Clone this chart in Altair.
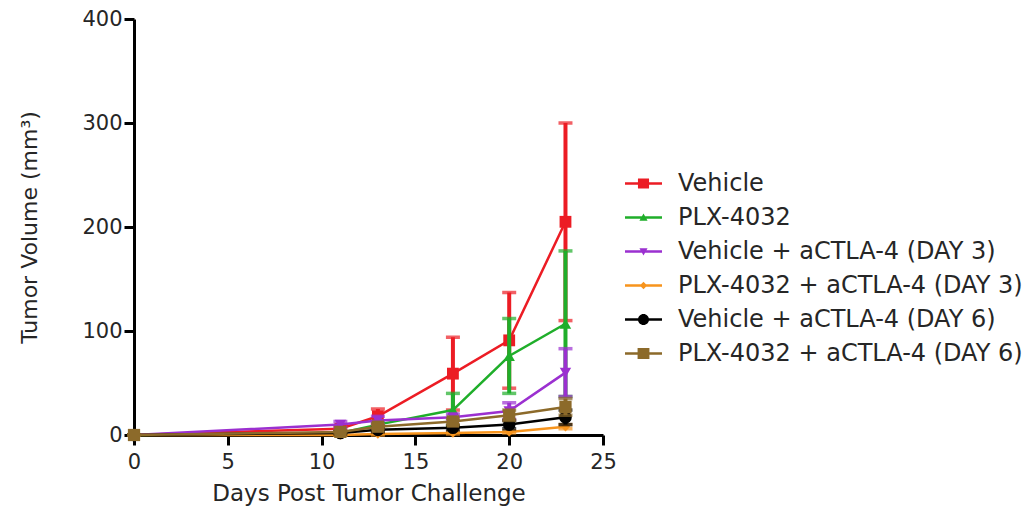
import altair as alt
import pandas as pd

# ---------------- data ----------------
days = [0, 11, 13, 17, 20, 23]

series_names = [
    "Vehicle",
    "PLX-4032",
    "Vehicle + aCTLA-4 (DAY 3)",
    "PLX-4032 + aCTLA-4 (DAY 3)",
    "Vehicle + aCTLA-4 (DAY 6)",
    "PLX-4032 + aCTLA-4 (DAY 6)",
]

vehicle_mean = [0, 6, 18, 59, 91, 205]
vehicle_err = [0, 2, 7, 35, 46, 95]

plx_mean = [0, 2, 10, 24, 76, 107]
plx_err = [0, 1, 3, 16, 36, 70]

veh_ctla_d3_mean = [0, 10, 14, 17, 23, 60]
veh_ctla_d3_err = [0, 3, 4, 3, 8, 23]

plx_ctla_d3_mean = [0, 0, 1, 2, 3, 8]
plx_ctla_d3_err = [0, 0, 1, 1, 1, 2]

veh_ctla_d6_mean = [0, 2, 5, 7, 10, 17]
veh_ctla_d6_err = [0, 1, 2, 2, 4, 7]

plx_ctla_d6_mean = [0, 3, 8, 13, 19, 27]
plx_ctla_d6_err = [0, 1, 2, 3, 5, 8]

means = [vehicle_mean, plx_mean, veh_ctla_d3_mean, plx_ctla_d3_mean, veh_ctla_d6_mean, plx_ctla_d6_mean]
errs = [vehicle_err, plx_err, veh_ctla_d3_err, plx_ctla_d3_err, veh_ctla_d6_err, plx_ctla_d6_err]

x_ticks = [0, 5, 10, 15, 20, 25]
y_ticks = [0, 100, 200, 300, 400]

# ---------------- styles ----------------
colors = ["#ec1c24", "#1fae2a", "#9b30d0", "#f7941d", "#000000", "#8c6a2a"]
shapes = ["square", "triangle-up", "triangle-down", "diamond", "circle", "square"]
sizes = [140, 130, 130, 90, 160, 150]

# legend symbols: a short line with the marker on top (custom SVG paths)
LINE = "M-1,-0.07H1V0.07H-1Z "
legend_paths = [
    LINE + "M-0.3,-0.27H0.3V0.27H-0.3Z",
    LINE + "M0,-0.22L0.22,0.17L-0.22,0.17Z",
    LINE + "M-0.22,-0.17L0.22,-0.17L0,0.22Z",
    LINE + "M0,-0.2L0.2,0L0,0.2L-0.2,0Z",
    LINE + "M0.3,0A0.3,0.3 0 1,1 -0.3,0A0.3,0.3 0 1,1 0.3,0Z",
    LINE + "M-0.32,-0.3H0.32V0.3H-0.32Z",
]

FONT = "DejaVu Sans"
TEXT = "#262626"

rows = []
for name, m_list, e_list in zip(series_names, means, errs):
    for d, m, e in zip(days, m_list, e_list):
        rows.append({"series": name, "day": d, "mean": m, "lo": max(m - e, 0), "hi": m + e})
df = pd.DataFrame(rows)

x_axis = alt.Axis(
    values=x_ticks, grid=False, domainColor="black", domainWidth=3,
    tickColor="black", tickWidth=3, tickSize=10, labelFlush=False,
    labelFont=FONT, labelFontSize=21, labelColor=TEXT,
    labelBaseline="alphabetic", labelPadding=23,
    title="Days Post Tumor Challenge", titleFont=FONT, titleFontSize=23,
    titleFontWeight="normal", titleColor=TEXT, titleY=65, titleBaseline="alphabetic",
)
y_axis = alt.Axis(
    values=y_ticks, grid=False, domainColor="black", domainWidth=3,
    tickColor="black", tickWidth=3, tickSize=10, labelFlush=False,
    labelFont=FONT, labelFontSize=21, labelColor=TEXT, labelPadding=2,
    title="Tumor Volume (mm³)", titleFont=FONT, titleFontSize=22,
    titleFontWeight="normal", titleColor=TEXT, titleX=-105, titleBaseline="middle",
)
x_scale = alt.Scale(domain=[0, 25], nice=False)
y_scale = alt.Scale(domain=[0, 400], nice=False)


def X(field):
    return alt.X(f"{field}:Q", scale=x_scale, axis=x_axis, title="Days Post Tumor Challenge")


def Y(field):
    return alt.Y(f"{field}:Q", scale=y_scale, axis=y_axis, title="Tumor Volume (mm³)")


base = alt.Chart(df)
layers = []
for name, col, shp, sz in zip(series_names, colors, shapes, sizes):
    sub = base.transform_filter(alt.datum.series == name)
    layers.append(sub.mark_rule(color=col, strokeWidth=4).encode(x=X("day"), y=Y("lo"), y2="hi:Q"))
    layers.append(sub.mark_tick(color=col, thickness=3.5, size=14, orient="horizontal").encode(x=X("day"), y=Y("hi")))
    layers.append(sub.mark_tick(color=col, thickness=3.5, size=14, orient="horizontal").encode(x=X("day"), y=Y("lo")))
    layers.append(sub.mark_line(color=col, strokeWidth=2.5).encode(x=X("day"), y=Y("mean"), order="day:Q"))
    layers.append(sub.mark_point(color=col, shape=shp, size=sz, filled=True, opacity=1).encode(x=X("day"), y=Y("mean")))

legend = alt.Legend(
    title=None, orient="none", legendX=491, legendY=146, padding=0,
    labelFont=FONT, labelFontSize=24, labelColor=TEXT, labelOffset=16,
    symbolSize=1369, symbolStrokeWidth=0, symbolOpacity=1, rowPadding=3,
    labelLimit=500,
)
legend_layer = base.transform_filter("datum.day < 0").mark_point(filled=True, strokeWidth=0).encode(
    x=X("day"), y=Y("mean"),
    color=alt.Color("series:N", scale=alt.Scale(domain=series_names, range=colors), legend=legend),
    shape=alt.Shape("series:N", scale=alt.Scale(domain=series_names, range=legend_paths), legend=legend),
)
layers.append(legend_layer)

chart = alt.layer(*layers).properties(
    width=469, height=416,
    autosize=alt.AutoSizeParams(type="none"),
    padding={"left": 126, "top": 11, "right": 420, "bottom": 73},
).configure(background="white").configure_view(stroke=None, strokeWidth=0)

chart.save("out.html", embed_options={"renderer": "svg", "actions": False})
